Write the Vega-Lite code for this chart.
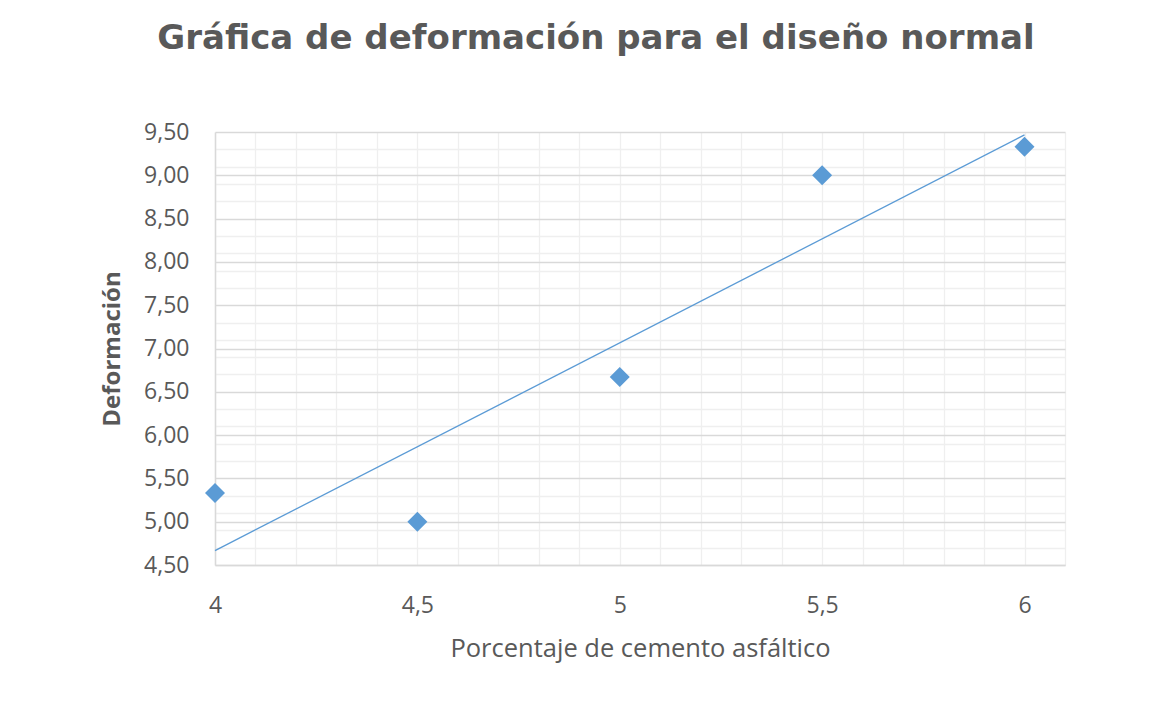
{
  "$schema": "https://vega.github.io/schema/vega-lite/v6.json",
  "autosize": {"type": "none"},
  "padding": {"left": 215, "top": 132, "right": 100, "bottom": 136},
  "width": 850,
  "height": 433,
  "background": "#ffffff",
  "title": {
    "text": "Gráfica de deformación para el diseño normal",
    "font": "DejaVu Sans",
    "fontSize": 34,
    "fontWeight": "bold",
    "color": "#595959",
    "anchor": "middle",
    "frame": "group",
    "baseline": "alphabetic",
    "dx": -44,
    "offset": 38
  },
  "data": {
    "values": [
      {"cemento": 4.0, "deformacion": 5.33},
      {"cemento": 4.5, "deformacion": 5.0},
      {"cemento": 5.0, "deformacion": 6.67},
      {"cemento": 5.5, "deformacion": 9.0},
      {"cemento": 6.0, "deformacion": 9.33}
    ]
  },
  "encoding": {
    "x": {
      "field": "cemento",
      "type": "quantitative",
      "scale": {"domain": [4, 6.1], "nice": false, "zero": false},
      "axis": {
        "title": "Porcentaje de cemento asfáltico",
        "values": [4.0, 4.1, 4.2, 4.3, 4.4, 4.5, 4.6, 4.7, 4.8, 4.9, 5.0, 5.1, 5.2, 5.3, 5.4, 5.5, 5.6, 5.7, 5.8, 5.9, 6.0, 6.1],
        "labelExpr": "abs(datum.value * 2 - round(datum.value * 2)) < 0.000001 ? replace(format(datum.value, '~g'), '.', ',') : ''",
        "labelOverlap": false,
        "labelFlush": false,
        "labelBound": false,
        "labelFont": "Open Sans",
        "labelFontSize": 23,
        "labelColor": "#595959",
        "labelPadding": 29,
        "ticks": false,
        "grid": true,
        "gridColor": "#efefef",
        "gridWidth": 1.3,
        "domain": true,
        "domainColor": "#d9d9d9",
        "domainWidth": 1.5,
        "titleFont": "Open Sans",
        "titleFontSize": 25.5,
        "titleFontWeight": "normal",
        "titleColor": "#595959",
        "titlePadding": 19
      }
    },
    "y": {
      "field": "deformacion",
      "type": "quantitative",
      "scale": {"domain": [4.5, 9.5], "nice": false, "zero": false},
      "axis": {
        "title": "Deformación",
        "values": [4.5, 4.7, 4.9, 5.0, 5.1, 5.3, 5.5, 5.7, 5.9, 6.0, 6.1, 6.3, 6.5, 6.7, 6.9, 7.0, 7.1, 7.3, 7.5, 7.7, 7.9, 8.0, 8.1, 8.3, 8.5, 8.7, 8.9, 9.0, 9.1, 9.3, 9.5],
        "labelExpr": "abs(datum.value * 2 - round(datum.value * 2)) < 0.000001 ? replace(format(datum.value, '.2f'), '.', ',') : ''",
        "labelOverlap": false,
        "labelFont": "Open Sans",
        "labelFontSize": 23,
        "labelColor": "#595959",
        "labelPadding": 26,
        "ticks": false,
        "grid": true,
        "gridColor": {
          "condition": {"test": "abs(datum.value * 2 - round(datum.value * 2)) < 0.000001", "value": "#d9d9d9"},
          "value": "#efefef"
        },
        "gridWidth": 1.5,
        "domain": true,
        "domainColor": "#d9d9d9",
        "domainWidth": 1.5,
        "titleFont": "Open Sans",
        "titleFontSize": 24,
        "titleFontWeight": "bold",
        "titleColor": "#595959",
        "titlePadding": 19
      }
    }
  },
  "layer": [
    {
      "transform": [{"regression": "deformacion", "on": "cemento"}],
      "mark": {"type": "line", "color": "#5b9bd5", "strokeWidth": 1.3}
    },
    {
      "mark": {"type": "point", "shape": "diamond", "filled": true, "size": 400, "color": "#5b9bd5", "opacity": 1}
    }
  ],
  "config": {
    "view": {"stroke": null}
  }
}
